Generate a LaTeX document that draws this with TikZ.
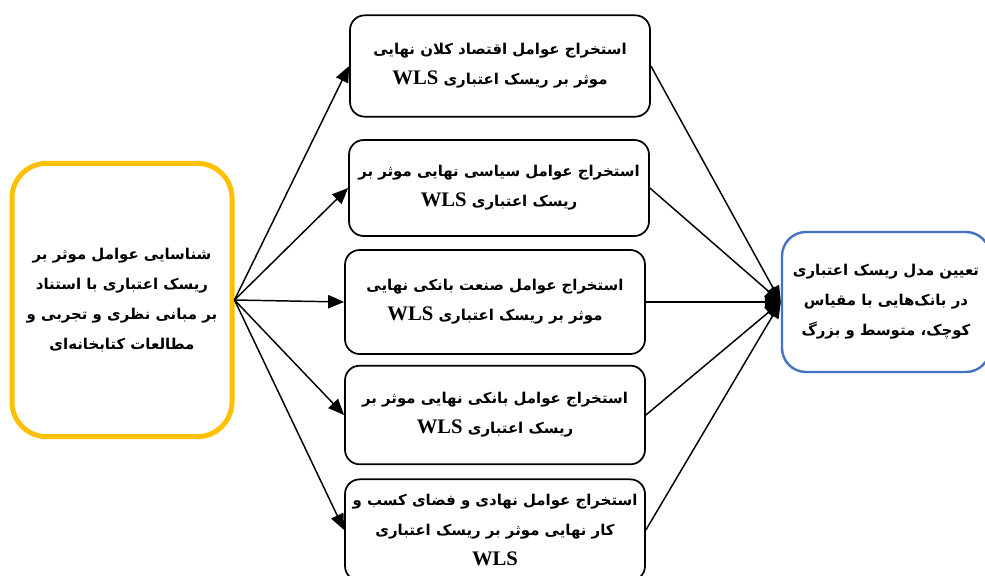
\documentclass[tikz,border=0pt]{standalone}
\usepackage{fontspec}
\newfontfamily\fafont[Script=Arabic]{DejaVu Sans}
\newfontfamily\wlsfont{Liberation Serif}
\TeXXeTstate=1
\usetikzlibrary{arrows.meta,calc}

\definecolor{srcyellow}{RGB}{255,192,0}
\definecolor{dstblue}{RGB}{68,114,196}

\newcommand{\faline}[1]{\beginR #1\endR}
\newcommand{\wls}{\beginL{\wlsfont\bfseries\fontsize{15.5}{22.5}\selectfont WLS}\endL{}}

\begin{document}
\begin{tikzpicture}[x=0.75pt,y=-0.75pt,
  txt/.style={align=center,font=\fafont\bfseries\fontsize{11.2}{22.5}\selectfont,inner sep=0pt},
  srcbox/.style={txt,draw=srcyellow,line width=3.75pt,rounded corners=26pt,minimum width=165pt,minimum height=205pt},
  factor/.style={txt,draw,line width=1.3pt,rounded corners=11pt,minimum width=225pt,minimum height=76pt},
  dstbox/.style={txt,draw=dstblue,line width=1.8pt,rounded corners=18pt,minimum width=156pt,minimum height=105pt},
  link/.style={line width=1.1pt,-{Triangle[length=12pt,width=10pt]}}]
\useasboundingbox (0,0) rectangle (985,575);

\coordinate (s) at (122,300);
\coordinate (m0) at (500,66);
\coordinate (m1) at (499,188);
\coordinate (m2) at (495,302);
\coordinate (m3) at (495,415);
\coordinate (m4) at (495,530);
\coordinate (t) at (886,302);

\node[srcbox] (src) at (s) {\faline{شناسایی عوامل موثر بر}\\\faline{ریسک اعتباری  با استناد}\\\faline{بر مبانی نظری و تجربی و}\\\faline{مطالعات کتابخانه‌ای}};

\node[factor] (f0) at (m0) {\faline{استخراج عوامل اقتصاد کلان نهایی}\\\faline{موثر بر ریسک اعتباری \wls}};
\node[factor,minimum height=72pt] (f1) at (m1) {\faline{استخراج عوامل سیاسی نهایی موثر بر}\\\faline{ریسک اعتباری \wls}};
\node[factor,minimum height=78pt] (f2) at (m2) {\faline{استخراج عوامل صنعت بانکی نهایی}\\\faline{موثر بر ریسک اعتباری \wls}};
\node[factor,minimum height=74pt] (f3) at (m3) {\faline{استخراج عوامل بانکی نهایی موثر بر}\\\faline{ریسک اعتباری \wls}};
\node[factor] (f4) at (m4) {\faline{استخراج عوامل نهادی و فضای کسب و}\\\faline{کار نهایی موثر بر ریسک اعتباری}\\\wls};

\node[dstbox] (dst) at (t) {\faline{تعیین مدل ریسک اعتباری}\\\faline{در بانک‌هایی با مقیاس}\\\faline{کوچک، متوسط و بزرگ}};

\foreach \f in {f0,f1,f2,f3,f4} {
  \draw[link] (src.east) -- (\f.west);
  \draw[link] (\f.east) -- (dst.west);
}

\end{tikzpicture}
\end{document}
